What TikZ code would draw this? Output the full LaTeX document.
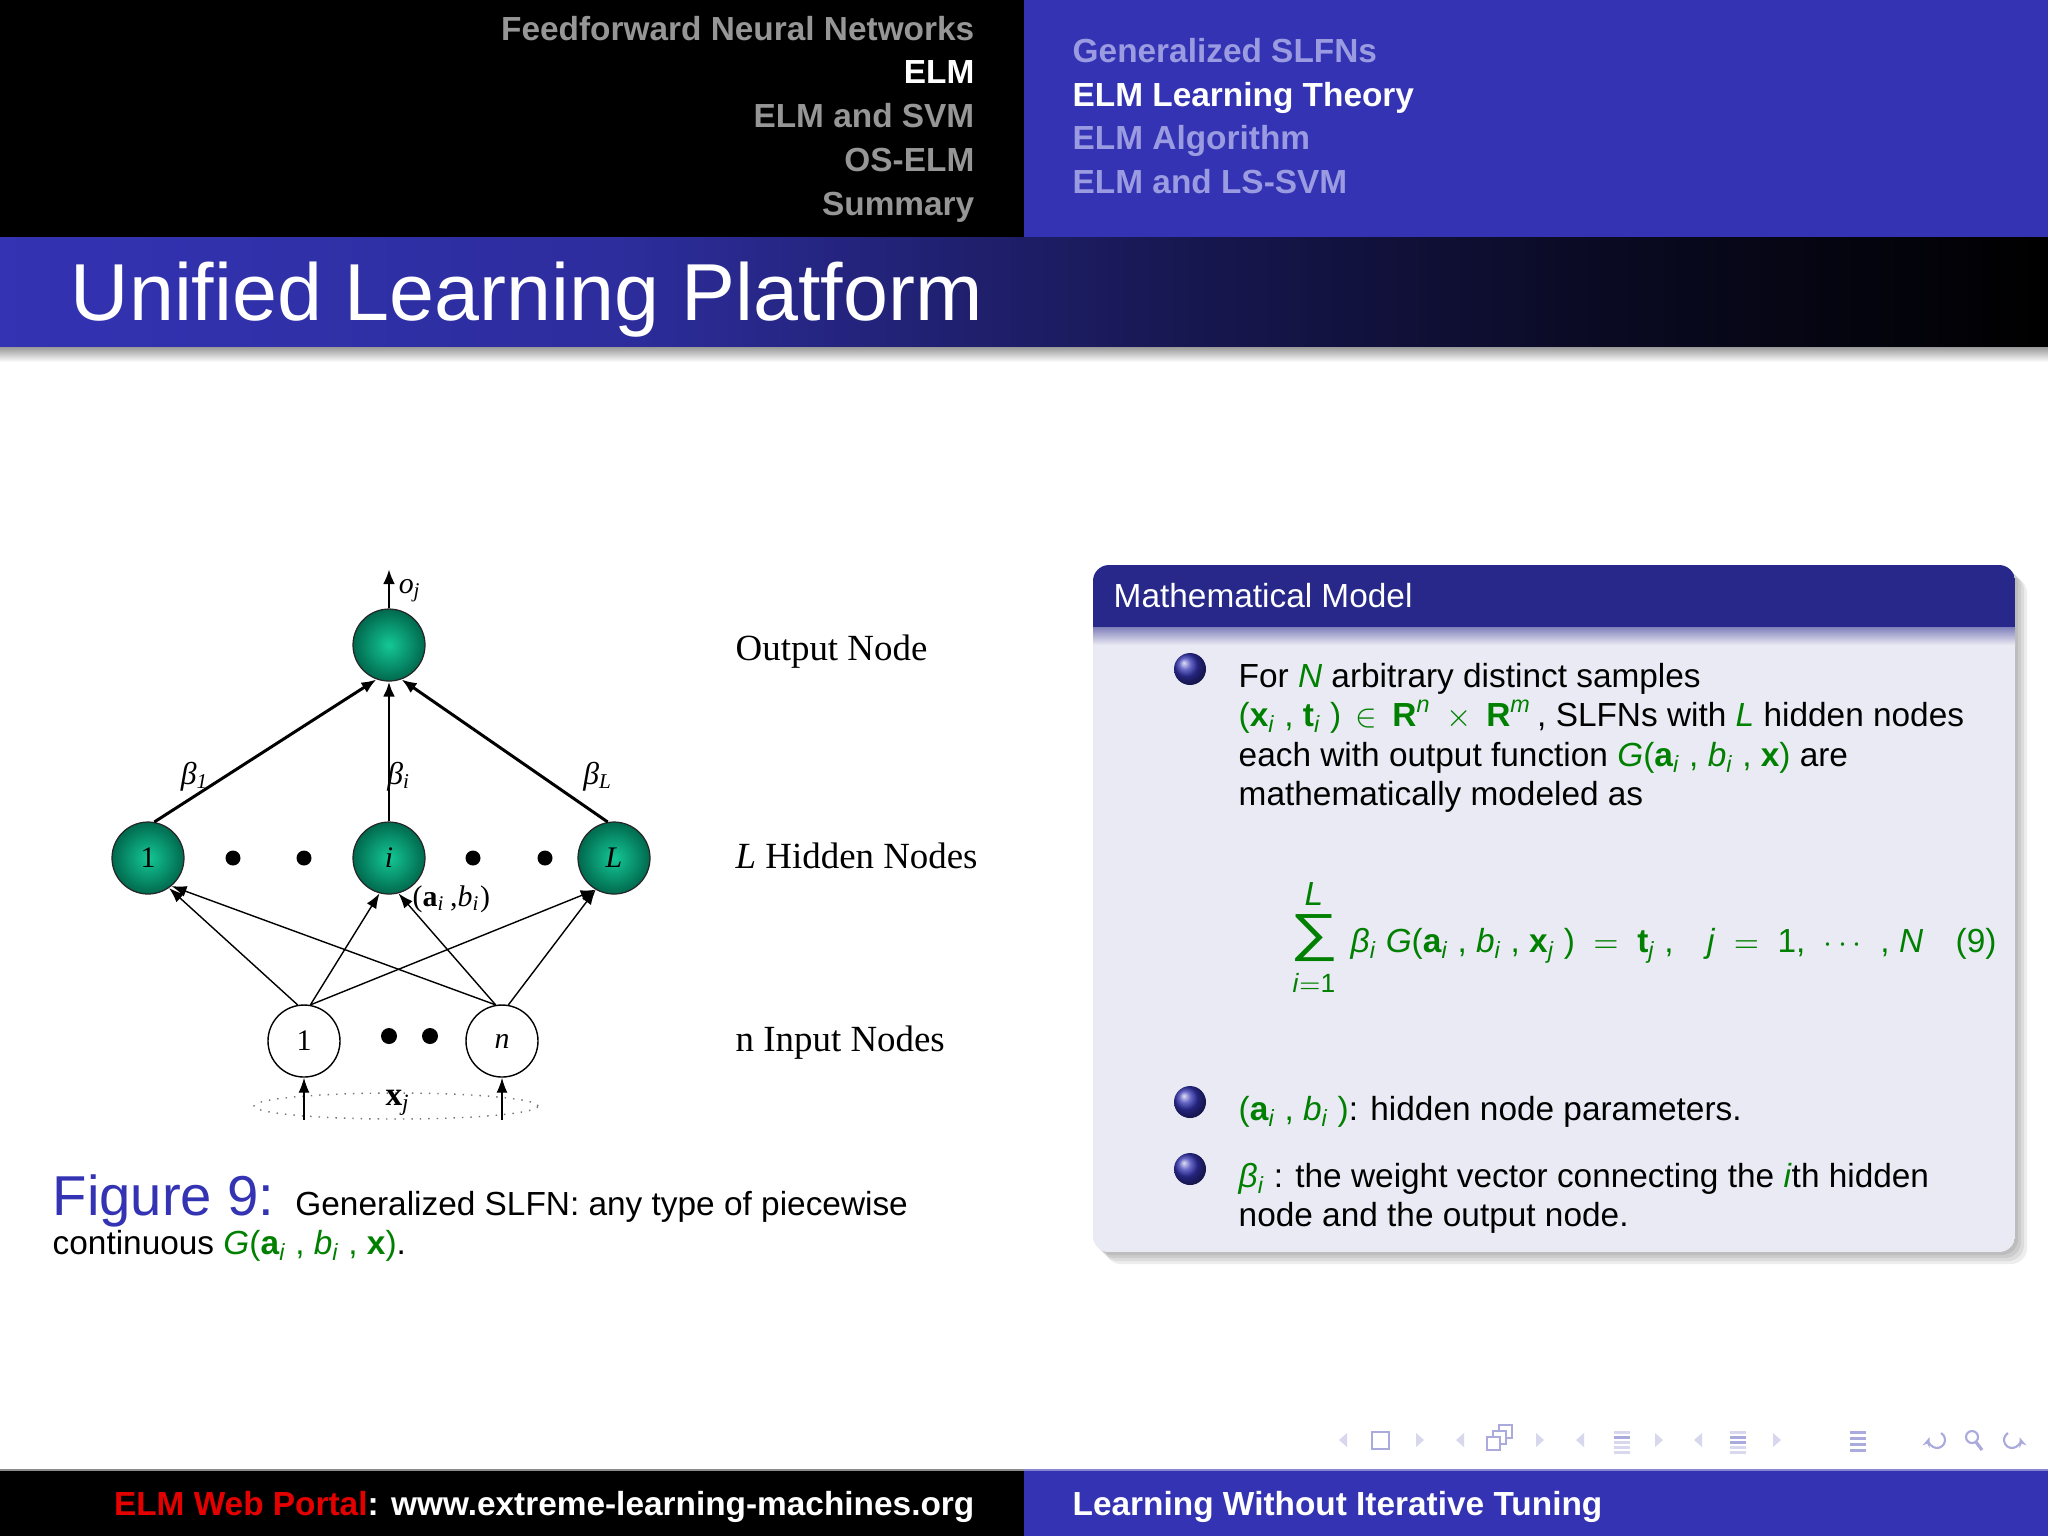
\documentclass[tikz,border=0pt]{standalone}
\usepackage{fontspec}
\usepackage{graphicx}
\setmainfont{Liberation Sans}
\newfontfamily\figfont{Liberation Serif}
\usetikzlibrary{arrows.meta, positioning, shapes.geometric, shadings}
\definecolor{structblue}{RGB}{51,51,179}
\definecolor{blocknavy}{RGB}{40,40,138}
\definecolor{blockbody}{RGB}{234,234,244}
\definecolor{elmgreen}{RGB}{0,128,0}
\definecolor{menugray}{RGB}{150,150,150}
\definecolor{menulav}{RGB}{155,155,225}
\definecolor{neurongreen}{RGB}{0,105,78}
\definecolor{neuronlight}{RGB}{20,200,150}
\definecolor{navlight}{RGB}{215,215,238}
\definecolor{navicon}{RGB}{170,170,220}
\colorlet{portalred}{red!90!black}
\pgfdeclarehorizontalshading{titlebar}{100bp}{color(0bp)=(structblue); color(25bp)=(structblue);
  color(40bp)=(structblue!88!black); color(54bp)=(structblue!45!black);
  color(64bp)=(structblue!20!black); color(75bp)=(black); color(100bp)=(black)}
\newcommand{\grn}[1]{\textcolor{elmgreen}{#1}}
\newcommand{\lowidx}[1]{\textsubscript{\itshape #1}}
\newcommand{\mathidx}[1]{\textsubscript{\itshape #1}\kern0.27em}

\begin{document}
\begin{tikzpicture}[x=0.1mm, y=-0.1mm,
  menuitem/.style={inner sep=0pt, font=\fontsize{9.5}{11}\selectfont\bfseries},
  slidetext/.style={anchor=base west, inner sep=0pt, font=\fontsize{9.5}{11.3}\selectfont},
  figlabel/.style={anchor=base west, inner sep=0pt, font=\figfont\fontsize{10.5}{12}\selectfont},
  hidnode/.style={circle, draw=black!85, line width=0.35pt, inner color=neuronlight,
    outer color=neurongreen, minimum size=7.2mm, inner sep=0pt, font=\figfont\fontsize{8.5}{10}\selectfont},
  innode/.style={circle, draw, fill=white, line width=0.4pt, minimum size=7.2mm,
    inner sep=0pt, font=\figfont\fontsize{8.5}{10}\selectfont},
  neurondot/.style={circle, fill=black, minimum size=1.5mm, inner sep=0pt},
  wlabel/.style={inner sep=0pt, font=\figfont\fontsize{8.5}{10}\selectfont},
  thinarrow/.style={line width=0.4pt, -{Latex[length=1.5mm, width=1.1mm]}},
  thickarrow/.style={line width=0.85pt, -{Latex[length=1.5mm, width=1.2mm]}},
  bulletball/.style={circle, ball color=structblue, minimum size=3.2mm, inner sep=0pt},
  navtri/.style={fill=navlight},
  navline/.style={draw=navicon, line width=0.6pt},
]
\useasboundingbox (0,0) rectangle (2048,1536);
\fill[white] (0,0) rectangle (2048,1536);

% headline
\fill[black] (0,0) rectangle (1024,237);
\fill[structblue] (1024,0) rectangle (2048,237);
\foreach \txt/\yy/\col in {Feedforward Neural Networks/40/menugray, ELM/83/white,
    ELM and SVM/127/menugray, OS-ELM/171/menugray, Summary/215/menugray}
  \node[menuitem, text=\col, anchor=base east] (sec\yy) at (975,\yy) {\txt};
\foreach \txt/\yy/\col in {Generalized SLFNs/62/menulav, ELM Learning Theory/106/white,
    ELM Algorithm/149/menulav, ELM and LS-SVM/193/menulav}
  \node[menuitem, text=\col, anchor=base west] (subsec\yy) at (1072,\yy) {\txt};

% frame title
\shade[shading=titlebar] (0,237) rectangle (2048,347);
\shade[top color=black!40, bottom color=white] (0,347) rectangle (2048,362);
\node[anchor=base west, inner sep=0pt, text=white, font=\fontsize{23}{27}\selectfont]
  (title) at (70,320) {Unified Learning Platform};

% network
\node[hidnode] (out) at (389,645) {};
\node[hidnode] (h1) at (148,858) {1};
\node[hidnode] (hi) at (389,858) {\itshape i};
\node[hidnode] (hL) at (614,858) {\itshape L};
\foreach \x in {233,304,473,545}
  \node[neurondot] (hdot\x) at (\x,858) {};
\node[innode] (in1) at (304,1041) {1};
\node[innode] (inn) at (502,1041) {\itshape n};
\foreach \x in {389,430}
  \node[neurondot, minimum size=1.6mm] (idot\x) at (\x,1036) {};
\node[ellipse, draw=black!55, dotted, line width=0.4pt, minimum width=28.4mm,
  minimum height=2.6mm, inner sep=0pt] (xset) at (396,1106) {};
\node[wlabel, font=\figfont\fontsize{9.5}{10}\selectfont] (xlab) at (398,1103) {\textbf{x}\lowidx{j}};
\coordinate (otip) at (389,569);

\draw[thickarrow] (out.north) -- (otip);
\node[wlabel] (olab) at (410,591) {\itshape o\lowidx{j}};
\draw[thickarrow] (h1.80) -- (out.250);
\draw[thickarrow] (hi.north) -- (out.south);
\draw[thickarrow] (hL.100) -- (out.290);
\node[wlabel, font=\figfont\fontsize{9}{10}\selectfont] (b1lab) at (195,777) {\itshape β\lowidx{1}};
\node[wlabel, font=\figfont\fontsize{9}{10}\selectfont] (bilab) at (399,777) {\itshape β\lowidx{i}};
\node[wlabel, font=\figfont\fontsize{9}{10}\selectfont] (bLlab) at (598,777) {\itshape β\lowidx{L}};

\draw[thinarrow] (in1.100) -- (h1.-55);
\draw[thinarrow] (in1.80) -- (hi.-105);
\draw[thinarrow] (in1.80) -- (hL.-120);
\draw[thinarrow] (inn.100) -- (h1.-50);
\draw[thinarrow] (inn.100) -- (hi.-75);
\draw[thinarrow] (inn.80) -- (hL.-120);
\node[wlabel, anchor=west] (ablab) at (412,899) {(\textbf{a}\lowidx{i}\,,\textit{b}\lowidx{i})};
\draw[thinarrow] (xset.south -| in1) -- (in1.south);
\draw[thinarrow] (xset.south -| inn) -- (inn.south);

\node[figlabel] (lout) at (735,660) {Output Node};
\node[figlabel] (lhid) at (735,868) {\textit{L} Hidden Nodes};
\node[figlabel] (lin) at (735,1051) {n Input Nodes};

% caption
\node[slidetext] (cap1) at (52,1215)
  {{\color{structblue}\fontsize{16}{19}\selectfont Figure 9: }Generalized SLFN: any type of piecewise};
\node[slidetext] (cap2) at (52,1254)
  {continuous \grn{\textit{G}(\textbf{a}\mathidx{i}, \textit{b}\mathidx{i}, \textbf{x})}.};

% block
\foreach \s in {3,6,9,12}
  \fill[black, opacity=0.07, rounded corners=1.6mm] (1093+\s,565+\s) rectangle (2015+\s,1252+\s);
\begin{scope}
  \clip[rounded corners=1.6mm] (1093,565) rectangle (2015,1252);
  \fill[blockbody] (1093,565) rectangle (2015,1252);
  \fill[blocknavy] (1093,565) rectangle (2015,627);
  \shade[top color=blocknavy!55!blockbody, bottom color=blockbody] (1093,627) rectangle (2015,645);
\end{scope}
\node[slidetext, text=white] (blocktitle) at (1113,607) {Mathematical Model};

\node[bulletball] (ball1) at (1190,669) {};
\node[slidetext] (t1) at (1238,687) {For \grn{\textit{N}} arbitrary distinct samples};
\node[slidetext] (t2) at (1238,726)
  {\grn{(\textbf{x}\mathidx{i}, \textbf{t}\mathidx{i}) \,$\in$\, \textbf{R}\textsuperscript{\itshape n} \,$\times$\, \textbf{R}\textsuperscript{\itshape m}}\,, SLFNs with \grn{\textit{L}} hidden nodes};
\node[slidetext] (t3) at (1238,766)
  {each with output function \grn{\textit{G}(\textbf{a}\mathidx{i}, \textit{b}\mathidx{i}, \textbf{x})} are};
\node[slidetext] (t4) at (1238,805) {mathematically modeled as};

\node[inner sep=0pt, text=elmgreen, font=\fontsize{9.5}{11}\selectfont] (sumsym) at (1314,938)
  {\resizebox*{4.8mm}{4.7mm}{∑}};
\node[inner sep=0pt, text=elmgreen, font=\fontsize{9.5}{11}\selectfont, anchor=base] (sumup) at (1314,905) {\itshape L};
\node[inner sep=0pt, text=elmgreen, font=\fontsize{7.5}{9}\selectfont, anchor=base] (sumlow) at (1314,992) {\textit{i}$=$1};
\node[slidetext, text=elmgreen] (eqn) at (1350,952)
  {\textit{β}\mathidx{i}\textit{G}(\textbf{a}\mathidx{i}, \textit{b}\mathidx{i}, \textbf{x}\mathidx{j}) \;$=$\; \textbf{t}\mathidx{j},\quad\textit{j} \;$=$\; 1,\; $\cdots$\; , \textit{N}};
\node[slidetext, text=elmgreen] (eqnum) at (1955,952) {(9)};

\node[bulletball] (ball2) at (1190,1102) {};
\node[slidetext] (t5) at (1238,1120)
  {\grn{(\textbf{a}\mathidx{i}, \textit{b}\mathidx{i})}: hidden node parameters.};
\node[bulletball] (ball3) at (1190,1169) {};
\node[slidetext] (t6) at (1238,1187)
  {\grn{\textit{β}\mathidx{i}}: the weight vector connecting the \grn{\textit{i}}th hidden};
\node[slidetext] (t7) at (1238,1226) {node and the output node.};

% navigation symbols
\foreach \x in {1343,1460,1580,1698}
  \fill[navtri] (\x+4,1433) -- (\x-4,1440) -- (\x+4,1447) -- cycle;
\foreach \x in {1420,1540,1659,1777}
  \fill[navtri] (\x-4,1433) -- (\x+4,1440) -- (\x-4,1447) -- cycle;
\draw[navline] (1372,1432) rectangle (1389,1449);
\foreach \d in {12,6,0}
  \draw[navline, fill=white] (1487+\d,1437-\d) rectangle (1500+\d,1450-\d);
\foreach \yy/\bc in {1431/navlight,1436/navicon,1441/navlight,1446/navlight,1451/navlight}
  \fill[\bc] (1614,\yy) rectangle (1630,\yy+2.6);
\foreach \yy/\bc in {1431/navlight,1436/navicon,1441/navicon,1446/navlight,1451/navlight}
  \fill[\bc] (1730,\yy) rectangle (1746,\yy+2.6);
\foreach \yy in {1431,1437,1443,1449}
  \fill[navicon] (1850,\yy) rectangle (1866,\yy+2.6);
\draw[navline, -{Stealth[length=1mm]}] (1941,1433) arc[start angle=-60, end angle=200, radius=8];
\draw[navline] (1972,1437) circle[radius=6];
\draw[navline, line width=0.9pt] (1976,1442) -- (1982,1450);
\draw[navline, -{Stealth[length=1mm]}] (2008,1433) arc[start angle=240, end angle=-20, radius=8];

% footline
\fill[black] (0,1470) rectangle (1024,1536);
\fill[structblue] (1024,1470) rectangle (2048,1536);
\draw[black!45, line width=0.5pt] (0,1470) -- (1024,1470);
\draw[structblue!60!white, line width=0.5pt] (1024,1470) -- (2048,1470);
\node[menuitem, anchor=base east] (portal) at (975,1515)
  {\textcolor{portalred}{ELM Web Portal}\textcolor{white}{: www.extreme-learning-machines.org}};
\node[menuitem, anchor=base west, text=white] (motto) at (1072,1515) {Learning Without Iterative Tuning};
\end{tikzpicture}
\end{document}
